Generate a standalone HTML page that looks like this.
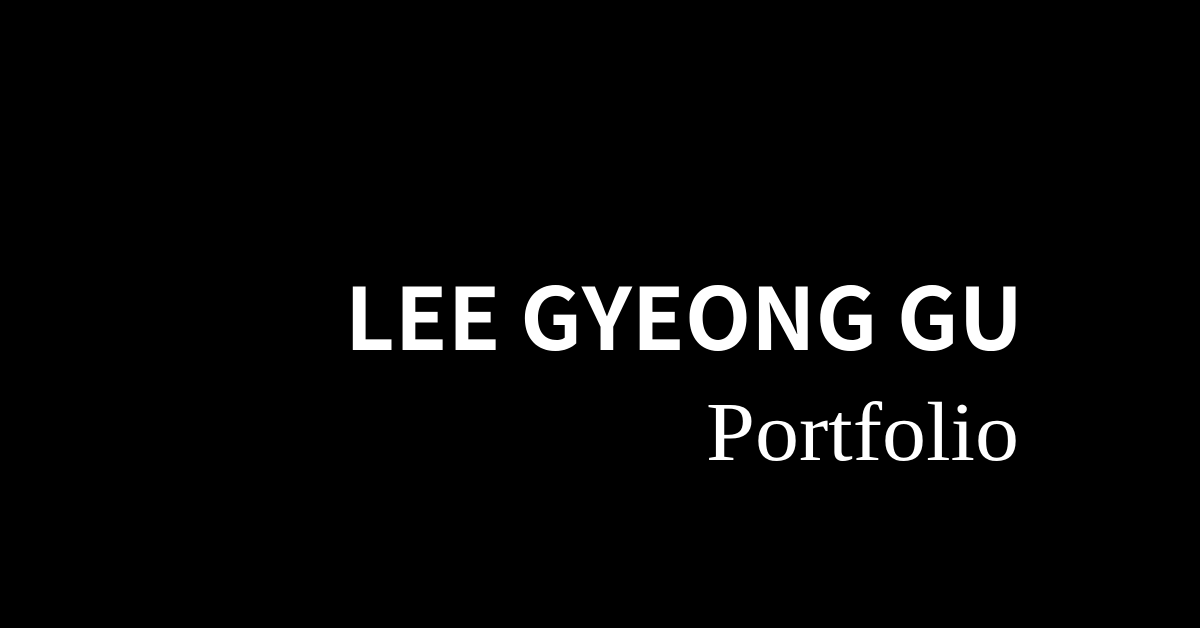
<!DOCTYPE html>
<html>
<head>
<meta charset="utf-8">
<style>
  html, body { margin: 0; padding: 0; background: #000; }
  body { width: 1200px; height: 628px; overflow: hidden; }
  svg { display: block; }
</style>
</head>
<body>
<svg width="1200" height="628" viewBox="0 0 1200 628">
  <rect x="0" y="0" width="1200" height="628" fill="#000"/>
  <text x="1023" y="350" text-anchor="end" fill="#fff"
        font-family="'Noto Sans CJK KR', 'Noto Sans CJK JP', 'Liberation Sans', sans-serif"
        font-weight="700" font-size="86" textLength="678" lengthAdjust="spacingAndGlyphs"
       >LEE GYEONG GU</text>
  <text x="1019" y="460" text-anchor="end" fill="#fff"
        font-family="'Liberation Serif', serif" font-size="84" textLength="313" lengthAdjust="spacingAndGlyphs"
       >Portfolio</text>
</svg>
</body>
</html>
